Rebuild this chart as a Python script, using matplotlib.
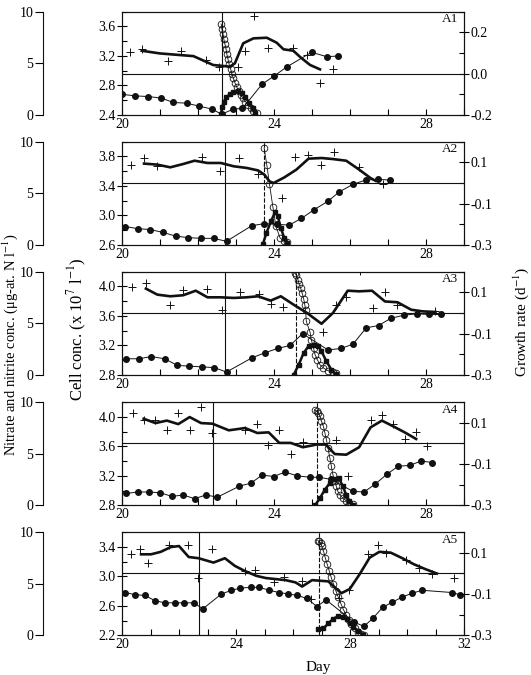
import numpy as np
import matplotlib
matplotlib.use('Agg')
import matplotlib.pyplot as plt

plt.rcParams['font.family'] = ['Liberation Serif', 'DejaVu Serif']
plt.rcParams['mathtext.fontset'] = 'stix'
plt.rcParams['axes.unicode_minus'] = False

# ---------------- A1 ----------------
a1_cell_day = [20.0, 20.34, 20.69, 21.03, 21.35, 21.70, 22.03, 22.37, 22.62, 22.93, 23.17, 23.69, 24.01, 24.33, 24.99, 25.39, 25.69]
a1_cell = [2.68, 2.66, 2.65, 2.63, 2.57, 2.56, 2.52, 2.48, 2.41, 2.48, 2.49, 2.82, 2.93, 3.05, 3.25, 3.19, 3.20]
a1_gr_day = [20.21, 20.52, 21.20, 21.54, 22.20, 22.54, 23.04, 23.24, 23.48, 23.85, 24.51, 24.86, 25.21, 25.56]
a1_gr = [0.103, 0.119, 0.061, 0.111, 0.066, 0.034, 0.034, 0.111, 0.279, 0.123, 0.123, 0.09, -0.044, 0.023]
a1_fit_day = [20.52, 21.0, 21.88, 22.40, 22.84, 22.97, 23.19, 23.46, 23.81, 24.07, 24.25, 24.51, 24.68, 24.95, 25.21]
a1_fit = [0.111, 0.098, 0.085, 0.042, 0.034, 0.05, 0.147, 0.171, 0.174, 0.15, 0.118, 0.111, 0.082, 0.042, 0.021]
a1_no3_day = [22.61, 22.63, 22.66, 22.68, 22.71, 22.74, 22.76, 22.79, 22.82, 22.86, 22.89, 22.93, 22.97, 23.02, 23.07, 23.12, 23.18, 23.25, 23.32, 23.39, 23.46, 23.54]
a1_no3 = [8.81, 8.29, 7.81, 7.32, 6.84, 6.35, 5.87, 5.39, 4.90, 4.45, 4.00, 3.55, 3.13, 2.71, 2.32, 1.97, 1.61, 1.29, 0.97, 0.68, 0.42, 0.23]
a1_no2_day = [22.60, 22.64, 22.68, 22.75, 22.84, 22.93, 23.04, 23.15, 23.25, 23.35, 23.44, 23.50]
a1_no2 = [0.06, 0.81, 1.29, 1.71, 2.03, 2.23, 2.29, 2.10, 1.71, 1.19, 0.65, 0.16]

# ---------------- A2 ----------------
a2_cell_day = [20.09, 20.43, 20.74, 21.08, 21.42, 21.74, 22.08, 22.41, 22.75, 23.41, 23.74, 24.07, 24.40, 24.72, 25.06, 25.41, 25.72, 26.07, 26.41, 26.73, 27.05]
a2_cell = [2.85, 2.82, 2.81, 2.77, 2.72, 2.70, 2.69, 2.69, 2.65, 2.86, 2.89, 2.88, 2.87, 2.96, 3.08, 3.19, 3.32, 3.42, 3.48, 3.49, 3.48]
a2_gr_day = [20.23, 20.57, 20.93, 22.10, 22.59, 23.08, 23.58, 24.21, 24.56, 24.90, 25.24, 25.58, 26.23, 26.88]
a2_gr = [0.088, 0.12, 0.081, 0.126, 0.056, 0.12, 0.042, -0.073, 0.126, 0.137, 0.089, 0.148, 0.076, -0.003]
a2_fit_day = [20.58, 20.93, 21.27, 21.61, 21.91, 22.25, 22.60, 22.94, 23.28, 23.58, 23.75, 23.88, 23.99, 24.27, 24.59, 24.91, 25.25, 25.55, 25.90, 26.24, 26.54, 26.67]
a2_fit = [0.094, 0.089, 0.076, 0.092, 0.108, 0.097, 0.097, 0.081, 0.073, 0.061, 0.040, 0.008, 0.0, 0.027, 0.065, 0.118, 0.121, 0.116, 0.108, 0.065, 0.024, 0.011]
a2_no3_day = [23.74, 23.81, 23.88, 23.97, 24.05, 24.16, 24.27, 24.35]
a2_no3 = [9.39, 7.77, 5.94, 3.68, 1.81, 0.68, 0.35, 0.29]
a2_no2_day = [23.71, 23.80, 23.92, 24.03, 24.10, 24.18, 24.27, 24.35]
a2_no2 = [0.1, 1.16, 2.29, 3.2, 2.77, 1.65, 0.68, 0.16]

# ---------------- A3 ----------------
a3_cell_day = [20.11, 20.45, 20.77, 21.12, 21.46, 21.77, 22.11, 22.43, 22.75, 23.41, 23.75, 24.10, 24.42, 24.75, 25.42, 25.77, 26.08, 26.43, 26.75, 27.08, 27.42, 27.76, 28.08, 28.40]
a3_cell = [3.02, 3.02, 3.05, 3.02, 2.93, 2.92, 2.91, 2.90, 2.84, 3.03, 3.10, 3.16, 3.20, 3.36, 3.14, 3.16, 3.22, 3.44, 3.47, 3.57, 3.61, 3.63, 3.62, 3.62]
a3_gr_day = [20.26, 20.63, 21.27, 21.61, 22.25, 22.62, 23.11, 23.61, 23.91, 24.25, 25.28, 25.62, 25.90, 26.26, 26.61, 26.91, 27.25, 28.25]
a3_gr = [0.126, 0.145, 0.037, 0.11, 0.118, 0.016, 0.102, 0.094, 0.045, 0.031, -0.094, 0.037, 0.076, 0.205, 0.024, 0.102, 0.037, 0.011]
a3_fit_day = [20.63, 20.93, 21.27, 21.61, 21.94, 22.25, 22.60, 22.94, 23.28, 23.58, 23.91, 24.18, 24.52, 24.87, 25.25, 25.55, 25.94, 26.24, 26.58, 26.92, 27.25, 27.61, 27.91, 28.25]
a3_fit = [0.118, 0.089, 0.081, 0.086, 0.108, 0.076, 0.076, 0.073, 0.076, 0.081, 0.06, 0.081, 0.040, 0.0, -0.052, 0.0, 0.108, 0.105, 0.108, 0.056, 0.052, 0.016, 0.008, 0.005]
a3_no3_day = [24.55, 24.59, 24.63, 24.66, 24.70, 24.74, 24.78, 24.81, 24.83, 24.85, 24.95, 24.98, 25.04, 25.08, 25.14, 25.21, 25.30, 25.42, 25.55, 25.62]
a3_no3 = [9.87, 9.65, 9.23, 8.81, 8.42, 7.94, 7.39, 6.81, 6.32, 5.19, 4.13, 3.42, 2.61, 1.97, 1.48, 1.0, 0.68, 0.42, 0.29, 0.19]
a3_no2_day = [24.52, 24.65, 24.78, 24.91, 25.04, 25.17, 25.25, 25.38, 25.51, 25.62]
a3_no2 = [0.03, 1.0, 2.13, 2.8, 2.95, 2.8, 2.29, 1.32, 0.52, 0.1]

# ---------------- A4 ----------------
a4_cell_day = [20.11, 20.41, 20.71, 21.01, 21.31, 21.61, 21.91, 22.21, 22.51, 23.09, 23.39, 23.69, 23.99, 24.29, 24.61, 24.94, 25.19, 25.51, 26.07, 26.37, 26.67, 26.97, 27.27, 27.57, 27.87, 28.17]
a4_cell = [2.96, 2.98, 2.98, 2.97, 2.92, 2.94, 2.89, 2.94, 2.91, 3.06, 3.10, 3.21, 3.19, 3.25, 3.20, 3.18, 3.18, 3.15, 2.99, 2.98, 3.09, 3.22, 3.33, 3.34, 3.40, 3.38]
a4_gr_day = [20.28, 20.58, 20.88, 21.18, 21.48, 21.78, 22.08, 22.38, 23.24, 23.56, 23.84, 24.14, 24.44, 24.76, 25.64, 25.94, 26.54, 26.84, 27.14, 27.44, 27.74, 28.02]
a4_gr = [0.147, 0.115, 0.115, 0.066, 0.147, 0.066, 0.176, 0.05, 0.063, 0.095, -0.01, 0.063, -0.052, 0.006, 0.015, -0.156, 0.111, 0.136, 0.093, 0.023, 0.053, -0.011]
a4_fit_day = [20.57, 20.88, 21.18, 21.48, 21.78, 22.08, 22.38, 22.81, 23.24, 23.56, 23.86, 24.14, 24.44, 24.76, 25.12, 25.36, 25.60, 25.90, 26.24, 26.54, 26.84, 27.14, 27.44, 27.74]
a4_fit = [0.119, 0.098, 0.11, 0.093, 0.127, 0.098, 0.095, 0.063, 0.074, 0.05, 0.053, 0.002, 0.002, -0.019, -0.006, -0.006, -0.052, -0.055, -0.019, 0.077, 0.11, 0.082, 0.053, 0.021]
a4_no3_day = [25.08, 25.12, 25.17, 25.21, 25.25, 25.30, 25.34, 25.38, 25.42, 25.47, 25.51, 25.55, 25.60, 25.64, 25.68, 25.74, 25.81, 25.90, 25.98, 26.07]
a4_no3 = [9.26, 9.10, 8.94, 8.61, 8.13, 7.65, 7.0, 6.35, 5.55, 4.58, 3.77, 2.97, 2.32, 1.84, 1.35, 0.97, 0.71, 0.45, 0.26, 0.13]
a4_no2_day = [25.08, 25.21, 25.34, 25.47, 25.60, 25.71, 25.81, 25.90, 25.98, 26.07]
a4_no2 = [0.0, 0.71, 1.52, 2.16, 2.55, 2.65, 1.84, 1.03, 0.45, 0.06]

# ---------------- A5 ----------------
a5_cell_day = [20.12, 20.46, 20.81, 21.15, 21.50, 21.85, 22.17, 22.51, 22.84, 23.49, 23.84, 24.15, 24.51, 24.82, 25.17, 25.51, 25.84, 26.15, 26.49, 26.84, 27.16, 28.14, 28.49, 28.80, 29.15, 29.49, 29.84, 30.18, 30.53, 31.57, 31.86]
a5_cell = [2.78, 2.75, 2.74, 2.67, 2.64, 2.64, 2.64, 2.64, 2.56, 2.76, 2.81, 2.84, 2.85, 2.85, 2.81, 2.78, 2.76, 2.74, 2.70, 2.59, 2.68, 2.38, 2.32, 2.43, 2.58, 2.65, 2.72, 2.77, 2.81, 2.78, 2.75]
a5_gr_day = [20.31, 20.64, 20.92, 21.65, 22.30, 22.65, 23.15, 24.30, 24.66, 25.34, 25.69, 26.30, 26.62, 27.61, 27.95, 28.62, 28.97, 29.26, 29.95, 30.43, 30.89, 31.65]
a5_gr = [0.092, 0.12, 0.051, 0.135, 0.135, -0.022, 0.116, 0.01, 0.015, -0.04, -0.017, -0.035, -0.125, -0.118, -0.082, 0.092, 0.135, 0.098, 0.065, 0.026, -0.005, -0.025]
a5_fit_day = [20.67, 21.02, 21.36, 21.71, 22.00, 22.34, 22.69, 23.21, 23.61, 23.96, 24.30, 24.71, 25.05, 25.40, 25.74, 26.09, 26.32, 26.67, 27.24, 27.53, 27.70, 27.99, 28.34, 28.69, 29.03, 29.43, 29.84, 30.24, 30.65, 31.05]
a5_fit = [0.092, 0.092, 0.104, 0.127, 0.132, 0.079, 0.073, 0.052, 0.073, 0.036, 0.012, -0.012, -0.023, -0.028, -0.033, -0.044, -0.064, -0.033, -0.039, -0.076, -0.096, -0.076, -0.004, 0.076, 0.104, 0.10, 0.073, 0.044, 0.02, -0.001]
a5_no3_day = [26.87, 26.92, 26.97, 27.01, 27.07, 27.13, 27.20, 27.27, 27.34, 27.42, 27.50, 27.59, 27.68, 27.77, 27.87, 27.96, 28.05, 28.17, 28.28, 28.40, 28.49]
a5_no3 = [9.17, 9.11, 8.95, 8.63, 8.15, 7.52, 6.88, 6.24, 5.61, 4.97, 4.33, 3.69, 3.06, 2.48, 1.94, 1.46, 1.05, 0.67, 0.35, 0.13, 0.0]
a5_no2_day = [26.87, 27.07, 27.24, 27.42, 27.59, 27.76, 27.88, 27.99, 28.11, 28.28, 28.45]
a5_no2 = [0.57, 0.67, 1.15, 1.62, 1.85, 1.78, 1.53, 1.15, 0.83, 0.45, 0.03]

panel_names = ['A1', 'A2', 'A3', 'A4', 'A5']
addition_day = [22.64, 22.71, 22.71, 22.40, 22.69]   # solid vertical line
nitrate_day = [None, 23.73, 24.57, 25.12, 26.92]     # dashed vertical line
cell_range = [(2.4, 3.8), (2.6, 4.0), (2.8, 4.2), (2.8, 4.2), (2.2, 3.6)]
gr_range = [(-0.2, 0.3), (-0.3, 0.2), (-0.3, 0.2), (-0.3, 0.2), (-0.3, 0.2)]
day_end = [29, 29, 29, 29, 32]

panels = [
    (a1_cell_day, a1_cell, a1_gr_day, a1_gr, a1_fit_day, a1_fit, a1_no3_day, a1_no3, a1_no2_day, a1_no2),
    (a2_cell_day, a2_cell, a2_gr_day, a2_gr, a2_fit_day, a2_fit, a2_no3_day, a2_no3, a2_no2_day, a2_no2),
    (a3_cell_day, a3_cell, a3_gr_day, a3_gr, a3_fit_day, a3_fit, a3_no3_day, a3_no3, a3_no2_day, a3_no2),
    (a4_cell_day, a4_cell, a4_gr_day, a4_gr, a4_fit_day, a4_fit, a4_no3_day, a4_no3, a4_no2_day, a4_no2),
    (a5_cell_day, a5_cell, a5_gr_day, a5_gr, a5_fit_day, a5_fit, a5_no3_day, a5_no3, a5_no2_day, a5_no2),
]

W_PX, H_PX = 531, 675
fig = plt.figure(figsize=(W_PX / 100, H_PX / 100), dpi=100)

left = 122 / W_PX
width = (464 - 122) / W_PX
height = 103.3 / H_PX
tops = [11.7, 141.7, 271.7, 402, 532]
ink = '#111111'

for i, p in enumerate(panels):
    cd, cv, gd, gv, fd, fv, n3d, n3v, n2d, n2v = p
    bottom = 1 - (tops[i] + 103.3) / H_PX
    ax = fig.add_axes([left, bottom, width, height])
    gr = ax.twinx()
    no = ax.twinx()

    # клетки (внутренняя левая ось)
    ax.plot(cd, cv, color=ink, lw=0.7, marker='o', ms=4, mfc=ink, mec=ink, zorder=3)
    ax.set_ylim(*cell_range[i])
    lo, hi = cell_range[i]
    ax.set_yticks(np.arange(lo, hi - 0.1, 0.4))
    ax.set_yticks(np.arange(lo, hi + 0.01, 0.2), minor=True)
    ax.yaxis.set_major_formatter('{x:.1f}')
    ax.set_xlim(20, day_end[i])
    ax.set_xticks(np.arange(20, day_end[i] + 0.1, 4))
    ax.set_xticks(np.arange(20, day_end[i] + 0.1, 1), minor=True)
    ax.tick_params(axis='y', which='major', direction='inout', length=7, width=0.8, labelsize=10, pad=1)
    ax.tick_params(axis='y', which='minor', direction='in', length=3.5, width=0.8)
    ax.tick_params(axis='x', which='both', direction='in', length=4, width=0.8, labelsize=10, pad=2)
    ax.axvline(addition_day[i], color=ink, lw=0.8)
    if nitrate_day[i] is not None:
        ax.axvline(nitrate_day[i], color=ink, lw=0.8, ls=(0, (4, 1.5)))

    # скорость роста (правая ось)
    gr.axhline(0, color=ink, lw=0.8)
    gr.plot(gd, gv, ls='none', marker='+', ms=6, mew=0.7, color=ink)
    gr.plot(fd, fv, color=ink, lw=1.9)
    gr.set_ylim(*gr_range[i])
    glo, ghi = gr_range[i]
    gr.set_yticks(np.arange(glo, ghi + 1e-6, 0.2))
    gr.set_yticks(np.arange(glo, ghi + 1e-6, 0.1), minor=True)
    gr.yaxis.set_major_formatter('{x:.1f}')
    gr.tick_params(axis='y', which='major', direction='inout', length=7, width=0.8, labelsize=10, pad=1)
    gr.tick_params(axis='y', which='minor', direction='in', length=3.5, width=0.8)

    # нитрат / нитрит (внешняя левая ось)
    no.plot(n3d, n3v, color=ink, lw=0.6, marker='o', ms=4.8, mfc='none', mec=ink, mew=0.6)
    no.plot(n2d, n2v, color=ink, lw=1.8, marker='s', ms=2.5, mfc=ink, mec=ink)
    no.set_ylim(0, 10)
    no.set_yticks([0, 5, 10])
    no.yaxis.set_ticks_position('left')
    no.spines['left'].set_position(('outward', 79 * 0.72))
    no.spines['left'].set_visible(True)
    for s in ['right', 'top', 'bottom']:
        no.spines[s].set_visible(False)
    no.tick_params(axis='y', direction='out', length=6, width=0.8, labelsize=10, pad=1)

    for a in (ax, gr, no):
        for s in a.spines.values():
            s.set_linewidth(0.8)
            s.set_color(ink)

    ax.text(1 - 6 / 342, 0.985, panel_names[i], transform=ax.transAxes,
            ha='right', va='top', fontsize=9.5, color=ink)

fig.text(318 / W_PX, 1 - 668 / H_PX, 'Day', ha='center', va='center', fontsize=11)
fig.text(10 / W_PX, 1 - 345 / H_PX, 'Nitrate and nitrite conc. (μg-at. N l$^{-1}$)',
         rotation=90, ha='center', va='center', fontsize=10.5)
fig.text(77 / W_PX, 1 - 329 / H_PX, 'Cell conc. (x 10$^{7}$ l$^{-1}$)',
         rotation=90, ha='center', va='center', fontsize=12)
fig.text(521 / W_PX, 1 - 322 / H_PX, 'Growth rate (d$^{-1}$)',
         rotation=90, ha='center', va='center', fontsize=11)

fig.savefig('out.png', dpi=100)
